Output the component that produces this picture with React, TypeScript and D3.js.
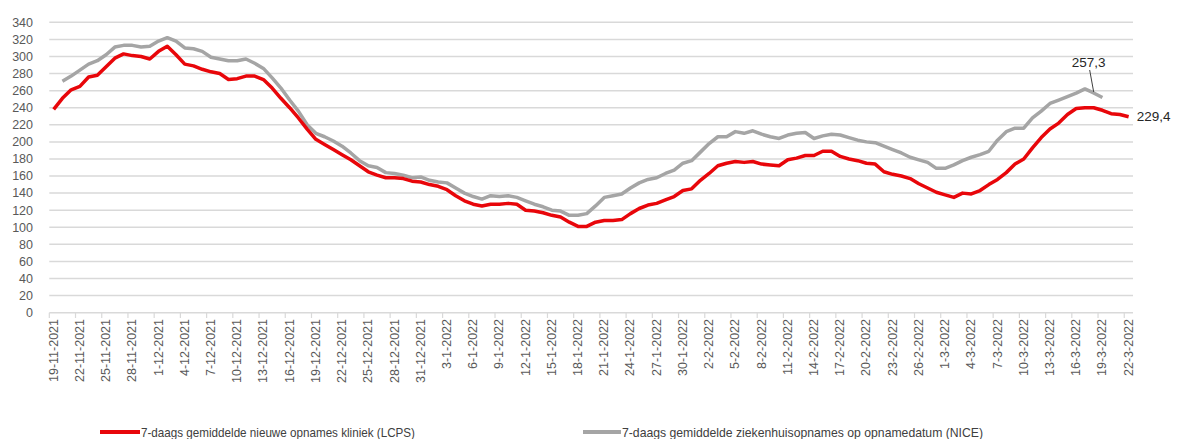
import React from 'react';
import * as d3 from 'd3';

// 7-daags gemiddelde, one value per day from 19-11-2021 to 22-3-2022
const lcps = [
  238, 251, 261, 265, 276, 278, 288, 298, 303, 301, 300, 297, 306, 312, 302, 291, 289, 285, 282, 280,
  273, 274, 277, 277, 273, 263, 251, 240, 228, 215, 203, 197, 191, 185, 179, 172, 165, 161, 158, 158,
  157, 154, 153, 150, 148, 144, 137, 131, 127, 125, 127, 127, 128, 127, 120, 119, 117, 114, 112, 106,
  101, 101, 106, 108, 108, 109, 116, 122, 126, 128, 132, 136, 143, 145, 155, 163, 172, 175, 177, 176,
  177, 174, 173, 172, 179, 181, 184, 184, 189, 189, 183, 180, 178, 175, 174, 165, 162, 160, 157, 151,
  146, 141, 138, 135, 140, 139, 143, 150, 156, 164, 174, 180, 193, 205, 215, 222, 232, 239, 240, 240,
  237, 233, 232, 229.4,
];

const nice = [
  null, 271, 277, 284, 291, 295, 302, 311, 313, 313, 311, 312, 318, 322, 318, 310, 309, 306, 299, 297,
  295, 295, 297, 292, 286, 275, 263, 249, 236, 220, 210, 206, 201, 195, 187, 178, 172, 170, 164, 163,
  161, 158, 159, 155, 153, 152, 146, 140, 136, 133, 137, 136, 137, 135, 131, 127, 124, 120, 119, 114,
  114, 116, 125, 135, 137, 139, 146, 152, 156, 158, 163, 167, 175, 178, 188, 198, 206, 206, 212, 210,
  213, 209, 206, 204, 208, 210, 211, 204, 207, 209, 208, 205, 202, 200, 199, 195, 191, 187, 182, 179,
  176, 169, 169, 173, 178, 182, 185, 189, 202, 212, 216, 216, 228, 236, 245, 249, 253, 257, 262, 257.3,
  252,
];

const tickLabels = [
  '19-11-2021', '22-11-2021', '25-11-2021', '28-11-2021', '1-12-2021', '4-12-2021', '7-12-2021',
  '10-12-2021', '13-12-2021', '16-12-2021', '19-12-2021', '22-12-2021', '25-12-2021', '28-12-2021',
  '31-12-2021', '3-1-2022', '6-1-2022', '9-1-2022', '12-1-2022', '15-1-2022', '18-1-2022',
  '21-1-2022', '24-1-2022', '27-1-2022', '30-1-2022', '2-2-2022', '5-2-2022', '8-2-2022',
  '11-2-2022', '14-2-2022', '17-2-2022', '20-2-2022', '23-2-2022', '26-2-2022', '1-3-2022',
  '4-3-2022', '7-3-2022', '10-3-2022', '13-3-2022', '16-3-2022', '19-3-2022', '22-3-2022',
];

const yTicks = d3.range(0, 341, 20);
const seriesNames = [
  '7-daags gemiddelde nieuwe opnames kliniek (LCPS)',
  '7-daags gemiddelde ziekenhuisopnames op opnamedatum (NICE)',
];

const RED = '#e8060a';
const GREY = '#a5a5a5';
const FONT = 'Liberation Sans, Arial, sans-serif';

export default function App() {
  const width = 1177;
  const height = 439;
  const n = lcps.length;

  const x = d3.scaleLinear().domain([-0.5, n - 0.5]).range([49.3, 1133]);
  const y = d3.scaleLinear().domain([0, 340]).range([312.7, 22.3]);

  const line = d3.line<number | null>()
    .defined(d => d != null)
    .x((_, i) => x(i))
    .y(d => y(d as number));

  const lastRed = n - 1;
  const niceLabelIdx = 119;

  return (
    <svg width={width} height={height} style={{ position: 'absolute', left: 0, top: 0, background: '#fff' }}
      fontFamily={FONT}>
      {yTicks.map(t => (
        <g key={t}>
          <line x1={49.3} x2={1133} y1={y(t)} y2={y(t)} stroke="#d9d9d9" strokeWidth={1.5} />
          <text x={33} y={y(t)} dy="0.35em" textAnchor="end" fontSize={12.5} fill="#595959">{t}</text>
        </g>
      ))}
      {tickLabels.map((lab, k) => (
        <g key={lab}>
          <line x1={x(3 * k - 0.5)} x2={x(3 * k - 0.5)} y1={312.7} y2={318} stroke="#d9d9d9" strokeWidth={1.2} />
          <text transform={`translate(${x(3 * k) + 4},319) rotate(-90)`} textAnchor="end"
            fontSize={12.5} fill="#595959">{lab}</text>
        </g>
      ))}
      <path d={line(nice) || ''} fill="none" stroke={GREY} strokeWidth={3.5} strokeLinejoin="round" />
      <path d={line(lcps) || ''} fill="none" stroke={RED} strokeWidth={3.5} strokeLinejoin="round" />

      <line x1={x(niceLabelIdx) - 4} y1={70} x2={x(niceLabelIdx)} y2={y(nice[niceLabelIdx] as number) - 1}
        stroke="#404040" strokeWidth={1} />
      <text x={x(niceLabelIdx) - 5} y={67} textAnchor="middle" fontSize={13.5} fill="#262626">
        {String(nice[niceLabelIdx]).replace('.', ',')}
      </text>
      <text x={x(lastRed) + 8} y={y(lcps[lastRed])} dy="0.35em" fontSize={13.5} fill="#262626">
        {String(lcps[lastRed]).replace('.', ',')}
      </text>

      <g fontSize={13} fill="#404040">
        <line x1={100} x2={140} y1={432} y2={432} stroke={RED} strokeWidth={4} />
        <text x={141} y={437} textLength={274} lengthAdjust="spacingAndGlyphs">{seriesNames[0]}</text>
        <line x1={583} x2={621} y1={432} y2={432} stroke={GREY} strokeWidth={4} />
        <text x={622} y={437} textLength={361} lengthAdjust="spacingAndGlyphs">{seriesNames[1]}</text>
      </g>
    </svg>
  );
}
